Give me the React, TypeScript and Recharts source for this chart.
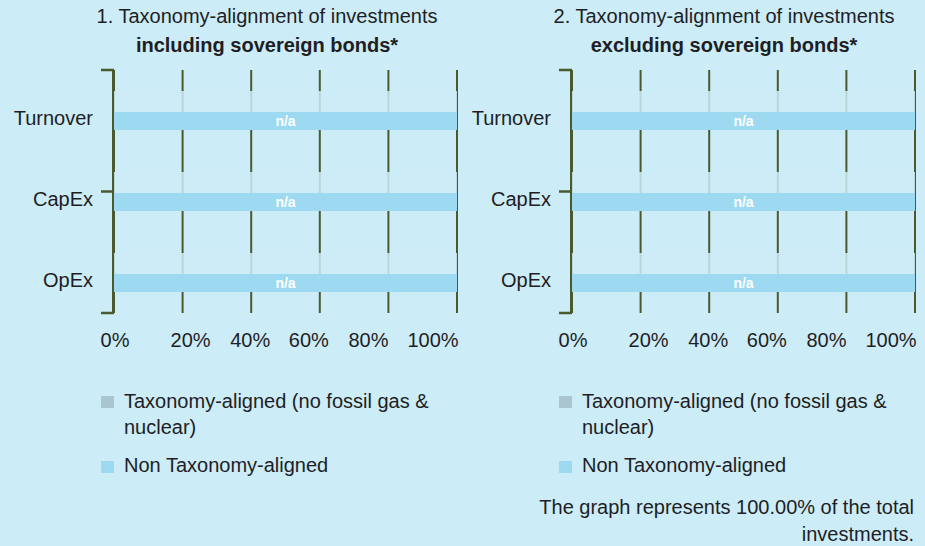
import React from 'react';
import { BarChart, Bar, XAxis, YAxis, CartesianGrid, LabelList } from 'recharts';

// ---- data ----
const categories = ['Turnover', 'CapEx', 'OpEx'];
const nonAlignedIncl = [100, 100, 100];
const nonAlignedExcl = [100, 100, 100];
const maskBand = [100, 100, 100];
const barLabels = ['n/a', 'n/a', 'n/a'];
const xTicks = [0, 20, 40, 60, 80, 100];
const boundaryTicks = [0, 1, 2, 3];
const legendNames = ['Taxonomy-aligned (no fossil gas & nuclear)', 'Non Taxonomy-aligned'];
const legendColors = ['#A9C5CF', '#9DDAF1'];
const chartTitles = [
  ['1. Taxonomy-alignment of investments', 'including sovereign bonds*'],
  ['2. Taxonomy-alignment of investments', 'excluding sovereign bonds*'],
];
const footerLines = ['The graph represents 100.00% of the total', 'investments.'];

// ---- style ----
const BG = '#CCECF7';
const BAR = '#9DDAF1';
const LINE = '#4A5A2C';
const TEXT = '#1E1E24';
const FONT = '"Liberation Sans", Arial, sans-serif';
const FS = 20;
const tickShift = [1, 8, -1, -11, -20, -24];

const buildData = (vals: number[]) =>
  categories.map((c, i) => ({ name: c, value: vals[i], mask: maskBand[i], label: barLabels[i] }));

const XTick = (props: any) => {
  const { x, payload, index } = props;
  return (
    <text x={x + (tickShift[index] || 0)} y={347} textAnchor="middle" fill={TEXT} fontSize={FS} fontFamily={FONT}>
      {payload.value}%
    </text>
  );
};

const YTick = (props: any) => {
  const { x, y, payload } = props;
  return (
    <text x={x} y={y + 14.5} textAnchor="end" fill={TEXT} fontSize={FS} fontFamily={FONT}>
      {payload.value}
    </text>
  );
};

function Panel({ data, width, right }: { data: any[]; width: number; right: number }) {
  return (
    <BarChart
      width={width}
      height={360}
      data={data}
      layout="vertical"
      margin={{ top: 70, right, bottom: 0, left: 0 }}
      barGap={0}
      barCategoryGap={0}
    >
      <CartesianGrid horizontal={false} vertical stroke={LINE} strokeWidth={2} yAxisId="cat" />
      <XAxis
        type="number"
        domain={[0, 100]}
        ticks={xTicks}
        axisLine={false}
        tickLine={false}
        tickSize={0}
        tickMargin={0}
        height={47}
        tick={<XTick />}
        interval={0}
      />
      <YAxis
        yAxisId="cat"
        type="category"
        dataKey="name"
        width={113}
        axisLine={{ stroke: LINE, strokeWidth: 2 }}
        tickLine={false}
        tickSize={0}
        tickMargin={20}
        tick={<YTick />}
        interval={0}
      />
      <YAxis
        yAxisId="bounds"
        type="number"
        domain={[0, 3]}
        ticks={boundaryTicks}
        reversed
        allowDataOverflow
        width={1}
        axisLine={false}
        tick={() => <g />}
        tickSize={13}
        tickLine={{ stroke: LINE, strokeWidth: 2.5 }}
        interval={0}
      />
      <Bar yAxisId="cat" dataKey="mask" barSize={21} fill={BG} fillOpacity={0.85} isAnimationActive={false} legendType="none" />
      <Bar yAxisId="cat" dataKey="value" barSize={18} fill={BAR} isAnimationActive={false}>
        <LabelList dataKey="label" position="center" fill="#ffffff" fontSize={14} fontWeight="bold" fontFamily={FONT} />
      </Bar>
    </BarChart>
  );
}

function Legend({ left }: { left: number }) {
  return (
    <div style={{ position: 'absolute', left, top: 388, fontFamily: FONT, fontSize: FS, color: TEXT }}>
      {legendNames.map((n, i) => (
        <div key={n} style={{ position: 'relative', height: i === 0 ? 64 : 30 }}>
          <div style={{ position: 'absolute', left: 0, top: i === 0 ? 8 : 9, width: 13, height: 12, background: legendColors[i] }} />
          <div style={{ position: 'absolute', left: 23, top: 0, width: 322, lineHeight: '26px' }}>{n}</div>
        </div>
      ))}
    </div>
  );
}

function Title({ center, lines }: { center: number; lines: string[] }) {
  const base: React.CSSProperties = {
    position: 'absolute', left: center - 250, width: 500, textAlign: 'center', fontFamily: FONT,
    fontSize: FS, lineHeight: '22px', color: TEXT, whiteSpace: 'nowrap',
  };
  return (
    <>
      <div style={{ ...base, top: 5 }}>{lines[0]}</div>
      <div style={{ ...base, top: 34, fontWeight: 'bold' }}>{lines[1]}</div>
    </>
  );
}

export default function App() {
  return (
    <div style={{ position: 'absolute', left: 0, top: 0, width: 925, height: 546, background: BG, overflow: 'hidden' }}>
      <Title center={267} lines={chartTitles[0]} />
      <Title center={724} lines={chartTitles[1]} />
      <div style={{ position: 'absolute', left: 0, top: 0 }}>
        <Panel data={buildData(nonAlignedIncl)} width={470} right={13} />
      </div>
      <div style={{ position: 'absolute', left: 458, top: 0 }}>
        <Panel data={buildData(nonAlignedExcl)} width={467} right={10} />
      </div>
      <Legend left={101} />
      <Legend left={559} />
      <div style={{ position: 'absolute', left: 414, width: 500, top: 494, textAlign: 'right', fontFamily: FONT, fontSize: FS, lineHeight: '27px', color: TEXT }}>
        {footerLines.map((l) => (
          <div key={l}>{l}</div>
        ))}
      </div>
    </div>
  );
}
